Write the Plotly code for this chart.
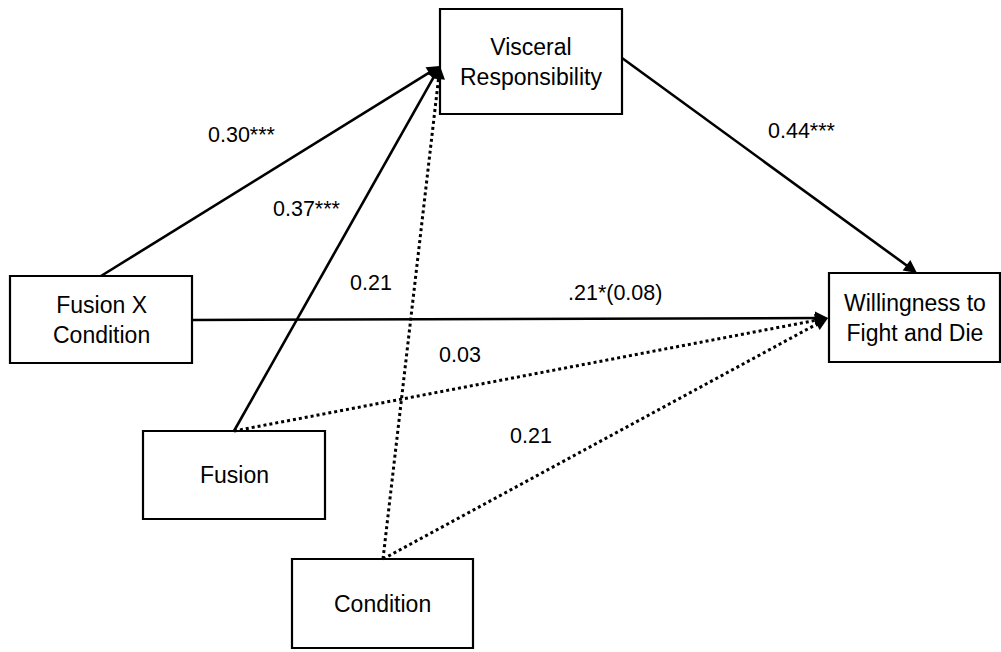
import plotly.graph_objects as go

# ---- data ----
node_ids = ["VR", "W", "FXC", "F", "C"]
node_labels = ["Visceral<br>Responsibility", "Willingness to<br>Fight and Die",
               "Fusion X<br>Condition", "Fusion", "Condition"]

edge_from = ["FXC", "F", "C", "VR", "FXC", "F", "C"]
edge_to = ["VR", "VR", "VR", "W", "W", "W", "W"]
edge_coef = ["0.30***", "0.37***", "0.21", "0.44***", ".21*(0.08)", "0.03", "0.21"]
edge_significant = [True, True, False, True, True, False, False]

# ---- layout (pixel geometry of the diagram) ----
W_PX, H_PX = 1001, 652
boxes = {  # x0, y0, x1, y1
    "VR": (440, 9, 622, 114),
    "W": (829, 273, 1000, 362),
    "FXC": (10, 276, 192, 363),
    "F": (143, 431, 325, 519),
    "C": (292, 559, 473, 648),
}
# anchor points of each edge (start on source box, tip on target box)
edge_start = [(101, 276), (234, 431), (383, 559), (622, 58), (192, 320), (234, 431), (383, 559)]
edge_tip = [(440, 66), (440, 66), (440, 66), (917, 273), (828, 318), (828, 318), (828, 318)]
label_pos = [(242, 135), (307, 209), (371, 283), (802, 131), (615, 293), (460, 355), (531, 436)]

FONT = "Liberation Sans, Arial, Helvetica, sans-serif"
FS_BOX = 23
FS_LAB = 21.5

fig = go.Figure()
shapes = []
annotations = []

for nid, lab in zip(node_ids, node_labels):
    x0, y0, x1, y1 = boxes[nid]
    shapes.append(dict(type="rect", xref="x", yref="y", x0=x0, y0=y0, x1=x1, y1=y1,
                       line=dict(color="black", width=2.2), fillcolor="rgba(0,0,0,0)", layer="above"))
    annotations.append(dict(x=(x0 + x1) / 2, y=(y0 + y1) / 2, xref="x", yref="y", text=lab,
                            showarrow=False, font=dict(family=FONT, size=FS_BOX, color="black"),
                            align="center"))

for i in range(len(edge_from)):
    (sx, sy), (tx, ty) = edge_start[i], edge_tip[i]
    sig = edge_significant[i]
    dx, dy = tx - sx, ty - sy
    L = (dx * dx + dy * dy) ** 0.5
    ex, ey = tx - dx / L * 8, ty - dy / L * 8
    fig.add_trace(go.Scatter(x=[sx, ex], y=[sy, ey], mode="lines",
                             line=dict(color="black", width=2.6 if sig else 3,
                                       dash="solid" if sig else "dot"),
                             hoverinfo="skip", showlegend=False, cliponaxis=False))
    bx, by = tx - dx / L * 9, ty - dy / L * 9
    annotations.append(dict(x=tx, y=ty, ax=bx, ay=by, xref="x", yref="y", axref="x", ayref="y",
                            showarrow=True, arrowhead=2, arrowsize=1, arrowwidth=2.6,
                            arrowcolor="black", text=""))
    lx, ly = label_pos[i]
    annotations.append(dict(x=lx, y=ly, xref="x", yref="y", text=edge_coef[i], showarrow=False,
                            font=dict(family=FONT, size=FS_LAB, color="black")))

fig.update_layout(
    width=W_PX, height=H_PX,
    margin=dict(l=0, r=0, t=0, b=0),
    paper_bgcolor="white", plot_bgcolor="white",
    xaxis=dict(range=[0, W_PX], visible=False, fixedrange=True),
    yaxis=dict(range=[H_PX, 0], visible=False, fixedrange=True),
    shapes=shapes, annotations=annotations,
    showlegend=False,
)

fig.write_html("out.html", config={"displayModeBar": False},
               post_script="document.body.style.margin='0';document.body.style.overflow='hidden';")
